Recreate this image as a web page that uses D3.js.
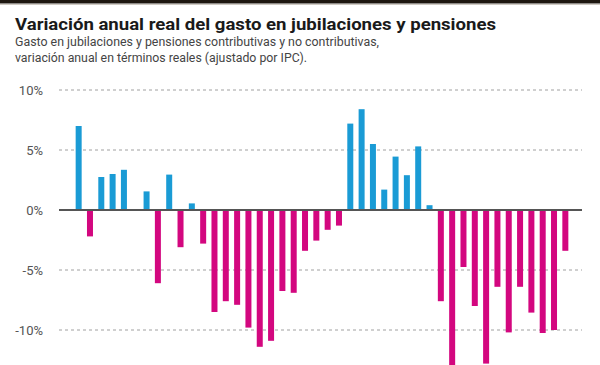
<!DOCTYPE html>
<html>
<head>
<meta charset="utf-8">
<script src="https://cdn.jsdelivr.net/npm/d3@7"></script>
<style>
  html, body { margin: 0; padding: 0; background: #fff; }
  svg { display: block; }
</style>
</head>
<body>
<div id="chart"></div>
<script>
const titleText = "Variación anual real del gasto en jubilaciones y pensiones";
const subtitleLines = [
  "Gasto en jubilaciones y pensiones contributivas y no contributivas,",
  "variación anual en términos reales (ajustado por IPC)."
];
const periods = d3.range(1, 45).map(String);
const values = [
  7.0, -2.2, 2.75, 3.0, 3.35, 0, 1.55, -6.1, 2.95, -3.1,
  0.55, -2.8, -8.5, -7.6, -7.9, -9.8, -11.4, -10.9, -6.75, -6.9,
  -3.4, -2.55, -1.65, -1.3, 7.2, 8.4, 5.5, 1.7, 4.45, 2.9,
  5.3, 0.4, -7.6, -13.5, -4.75, -8.0, -12.8, -6.4, -10.2, -6.4,
  -8.55, -10.25, -10.0, -3.4
];
const tickValues = [10, 5, 0, -5, -10];
const tickLabels = ["10%", "5%", "0%", "-5%", "-10%"];

const W = 600, H = 365;
const svg = d3.select("#chart").append("svg")
  .attr("width", W).attr("height", H)
  .style("font-family", "Roboto, 'Noto Sans', sans-serif");

// top band
svg.append("rect").attr("x", 0).attr("y", 0).attr("width", W).attr("height", 3.5).attr("fill", "#1d1710");
svg.append("line").attr("x1", 0).attr("x2", W).attr("y1", 4.5).attr("y2", 4.5)
  .attr("stroke", "#cfcac2").attr("stroke-width", 1);

// title
svg.append("text").attr("x", 15).attr("y", 29.5)
  .attr("font-size", 16.5).attr("font-weight", 700).attr("fill", "#1a1a1a")
  .attr("textLength", 481).attr("lengthAdjust", "spacingAndGlyphs")
  .text(titleText);
const subWidths = [364, 292];
subtitleLines.forEach((t, i) => {
  svg.append("text").attr("x", 15).attr("y", 45.5 + i * 16.8)
    .attr("font-size", 12.5).attr("fill", "#444")
    .attr("textLength", subWidths[i]).attr("lengthAdjust", "spacingAndGlyphs")
    .text(t);
});

const x = d3.scaleBand().domain(periods).range([73, 571])
  .paddingInner(0.47).paddingOuter(0.235);
const y = d3.scaleLinear().domain([-10, 10]).range([330, 90]);

// gridlines
const yAxis = d3.axisLeft(y).tickValues(tickValues)
  .tickFormat((d, i) => tickLabels[i]).tickSize(0).tickPadding(0);
const gAxis = svg.append("g").attr("transform", "translate(43,0)").call(yAxis);
gAxis.select(".domain").remove();
gAxis.selectAll("text").attr("font-size", 13).attr("fill", "#555")
  .attr("font-family", "Roboto, sans-serif").attr("dy", "0.34em");

svg.append("g").selectAll("line").data(tickValues.filter(d => d !== 0)).join("line")
  .attr("x1", 59).attr("x2", 582)
  .attr("y1", d => y(d)).attr("y2", d => y(d))
  .attr("stroke", "#a0a0a0").attr("stroke-width", 1)
  .attr("stroke-dasharray", "3,3");

// bars
svg.append("g").selectAll("rect").data(values).join("rect")
  .attr("x", (d, i) => x(periods[i]))
  .attr("width", x.bandwidth())
  .attr("y", d => y(Math.max(0, d)))
  .attr("height", d => Math.abs(y(d) - y(0)))
  .attr("fill", d => d >= 0 ? "#1a9bd5" : "#d3077f");

// zero line
svg.append("line").attr("x1", 59).attr("x2", 582)
  .attr("y1", y(0)).attr("y2", y(0))
  .attr("stroke", "#555").attr("stroke-width", 2);
</script>
</body>
</html>
